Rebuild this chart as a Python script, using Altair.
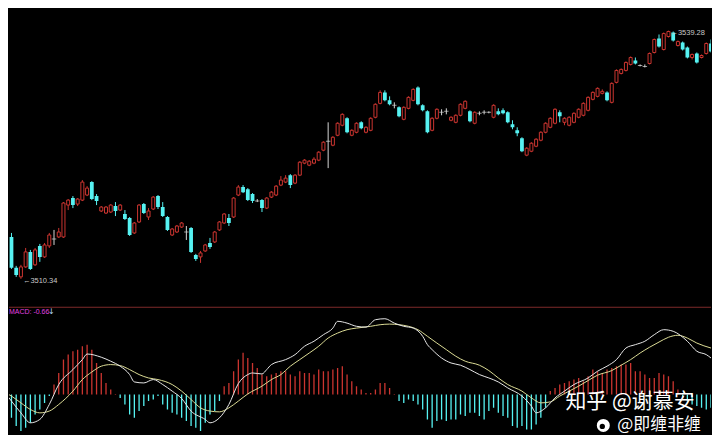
import altair as alt
import pandas as pd

# ---------------- price data (one entry per bar) ----------------
opens = [
    3513.71, 3516.15, 3515.22, 3511.62, 3510.57, 3511.73, 3513.48, 3511.97, 3514.18, 3512.90,
    3514.18, 3514.99, 3515.22, 3515.22, 3518.94, 3519.76, 3519.06, 3519.52, 3520.11, 3521.62,
    3519.99, 3518.25, 3518.01, 3518.13, 3518.83, 3518.36, 3517.90, 3517.43, 3515.69, 3516.97,
    3519.06, 3517.55, 3518.48, 3519.99, 3518.71, 3517.55, 3515.45, 3515.80, 3516.38, 3515.80,
    3516.27, 3513.13, 3512.90, 3513.59, 3514.52, 3514.64, 3516.04, 3516.85, 3517.43, 3517.55,
    3520.11, 3521.04, 3520.80, 3520.22, 3519.41, 3519.52, 3518.59, 3519.87, 3520.11, 3521.27,
    3521.62, 3522.43, 3521.50, 3522.43, 3523.83, 3523.59, 3523.83, 3524.18, 3525.34, 3526.38,
    3525.92, 3527.08, 3528.25, 3529.06, 3527.08, 3527.43, 3528.59, 3527.43, 3527.66, 3529.18,
    3530.80, 3532.08, 3531.15, 3530.57, 3530.34, 3528.94, 3530.22, 3531.15, 3532.66, 3530.57,
    3529.87, 3527.66, 3529.06, 3529.76, 3529.87, 3528.83, 3528.59, 3529.41, 3530.22, 3529.87,
    3528.48, 3529.64, 3529.76, 3529.76, 3529.18, 3529.87, 3529.99, 3529.76, 3528.36, 3527.66,
    3526.73, 3524.76, 3525.22, 3525.80, 3526.50, 3527.43, 3528.01, 3528.48, 3529.76, 3528.59,
    3528.25, 3528.59, 3529.18, 3529.41, 3529.99, 3531.27, 3531.62, 3531.97, 3532.08, 3530.92,
    3533.25, 3534.29, 3534.64, 3535.34, 3535.80, 3535.22, 3535.11, 3535.45, 3536.73, 3538.36,
    3537.08, 3538.59, 3539.06, 3537.55, 3537.90, 3537.31, 3536.15, 3536.62, 3536.15, 3536.62,
    3537.78,
]
closes = [
    3515.80, 3516.15, 3511.62, 3510.80, 3511.73, 3513.48, 3511.50, 3513.71, 3512.90, 3514.29,
    3515.45, 3514.99, 3515.80, 3519.18, 3519.52, 3518.94, 3519.64, 3521.62, 3520.92, 3519.64,
    3519.41, 3518.71, 3518.71, 3518.94, 3518.25, 3518.94, 3517.31, 3515.45, 3516.85, 3518.94,
    3518.01, 3518.25, 3519.87, 3518.71, 3517.66, 3516.04, 3516.15, 3516.50, 3516.85, 3515.80,
    3513.48, 3512.66, 3513.36, 3514.29, 3514.06, 3515.80, 3516.97, 3517.90, 3516.85, 3519.76,
    3521.04, 3520.45, 3519.52, 3519.41, 3519.41, 3518.59, 3519.76, 3520.45, 3521.15, 3521.85,
    3522.08, 3521.27, 3522.43, 3523.94, 3524.18, 3524.06, 3524.29, 3525.11, 3526.27, 3526.38,
    3526.85, 3528.48, 3529.52, 3527.43, 3527.66, 3528.48, 3527.90, 3528.01, 3529.06, 3530.69,
    3532.08, 3531.15, 3530.69, 3530.57, 3529.29, 3530.34, 3531.50, 3532.43, 3530.69, 3529.99,
    3527.43, 3529.06, 3530.11, 3529.76, 3529.87, 3529.18, 3529.41, 3530.69, 3531.04, 3528.71,
    3529.76, 3529.64, 3529.76, 3529.76, 3530.57, 3529.52, 3529.64, 3528.59, 3528.01, 3527.31,
    3525.22, 3525.57, 3526.15, 3526.62, 3527.43, 3528.48, 3529.06, 3530.11, 3529.29, 3529.06,
    3529.18, 3529.64, 3530.11, 3530.80, 3531.50, 3532.08, 3532.55, 3532.20, 3531.15, 3533.13,
    3534.64, 3534.76, 3535.57, 3536.15, 3535.45, 3535.22, 3535.11, 3536.62, 3538.25, 3537.43,
    3538.94, 3539.18, 3538.13, 3538.01, 3537.08, 3536.15, 3536.50, 3535.57, 3536.38, 3537.78,
    3536.85,
]
highs = [
    3516.04, 3516.97, 3515.69, 3511.85, 3511.97, 3513.94, 3513.71, 3513.94, 3514.41, 3514.52,
    3515.69, 3516.04, 3516.27, 3519.29, 3519.64, 3519.99, 3519.76, 3521.85, 3521.15, 3521.73,
    3520.22, 3518.83, 3518.83, 3519.06, 3519.29, 3519.06, 3518.36, 3517.55, 3516.97, 3519.06,
    3519.18, 3518.59, 3519.99, 3520.11, 3519.29, 3517.66, 3516.27, 3516.62, 3516.97, 3516.50,
    3516.38, 3513.25, 3513.59, 3514.41, 3515.11, 3515.92, 3517.08, 3518.01, 3517.90, 3519.87,
    3521.27, 3521.27, 3520.92, 3520.34, 3519.64, 3519.64, 3519.87, 3520.57, 3521.27, 3522.32,
    3522.43, 3522.55, 3522.55, 3524.06, 3524.29, 3524.18, 3524.52, 3525.22, 3526.38, 3528.59,
    3526.97, 3528.59, 3529.64, 3529.18, 3527.78, 3528.59, 3528.71, 3528.13, 3529.18, 3530.80,
    3532.32, 3532.32, 3531.62, 3530.92, 3530.45, 3530.45, 3531.62, 3532.55, 3532.78, 3530.69,
    3529.99, 3529.18, 3530.22, 3530.11, 3530.22, 3529.29, 3529.52, 3530.80, 3531.15, 3529.99,
    3529.87, 3529.87, 3529.99, 3529.87, 3530.69, 3530.22, 3530.22, 3529.87, 3528.83, 3528.01,
    3526.85, 3525.69, 3526.27, 3526.73, 3527.55, 3528.59, 3529.18, 3530.22, 3529.99, 3529.18,
    3529.29, 3529.76, 3530.22, 3530.92, 3531.62, 3532.20, 3532.66, 3532.43, 3532.20, 3533.25,
    3534.76, 3534.87, 3535.69, 3536.27, 3536.15, 3535.34, 3535.34, 3536.73, 3538.36, 3538.83,
    3539.06, 3539.28, 3539.18, 3538.13, 3538.01, 3537.43, 3536.62, 3536.73, 3536.50, 3537.90,
    3538.25,
]
lows = [
    3513.48, 3515.11, 3511.50, 3510.57, 3510.34, 3511.62, 3511.38, 3511.85, 3512.32, 3512.78,
    3513.94, 3514.29, 3515.11, 3515.11, 3518.36, 3518.59, 3518.83, 3519.41, 3519.99, 3519.52,
    3518.94, 3518.13, 3517.90, 3518.01, 3517.66, 3518.25, 3517.20, 3515.34, 3515.57, 3516.85,
    3517.90, 3517.20, 3518.36, 3518.48, 3517.55, 3515.92, 3515.34, 3515.69, 3516.27, 3514.87,
    3513.36, 3512.43, 3512.20, 3513.48, 3513.83, 3514.52, 3515.92, 3516.73, 3516.50, 3517.43,
    3519.99, 3520.34, 3519.41, 3519.18, 3519.29, 3518.13, 3518.48, 3519.76, 3519.99, 3521.15,
    3521.50, 3520.92, 3521.38, 3522.32, 3523.71, 3523.48, 3523.71, 3524.06, 3525.22, 3523.25,
    3525.80, 3526.97, 3528.13, 3527.31, 3526.97, 3527.31, 3527.78, 3527.31, 3527.55, 3529.06,
    3530.69, 3531.04, 3530.57, 3530.22, 3529.18, 3528.83, 3530.11, 3531.04, 3530.57, 3529.87,
    3527.31, 3527.55, 3528.94, 3529.41, 3529.52, 3528.71, 3528.48, 3529.29, 3530.11, 3528.59,
    3528.36, 3529.41, 3529.52, 3529.64, 3529.06, 3529.41, 3529.52, 3528.48, 3527.78, 3526.97,
    3525.11, 3524.64, 3525.11, 3525.69, 3526.38, 3527.31, 3527.90, 3528.36, 3528.59, 3528.25,
    3528.13, 3528.48, 3529.06, 3529.29, 3529.87, 3531.15, 3531.50, 3531.85, 3531.04, 3530.80,
    3533.13, 3534.18, 3534.52, 3535.22, 3535.34, 3535.11, 3534.99, 3535.34, 3536.62, 3537.31,
    3536.97, 3538.48, 3538.01, 3537.43, 3536.97, 3536.04, 3535.92, 3535.45, 3536.04, 3536.50,
    3536.73,
]

# ---------------- MACD data ----------------
macd_hist = [
    -0.45, -0.67, -1.17, -1.58, -1.83, -1.67, -1.42, -1.0, -0.75, -0.42,
    -0.08, 0.5, 1.08, 1.75, 2.0, 2.17, 2.25, 2.42, 2.5, 2.25,
    1.58, 1.08, 0.58, 0.25, 0.03, -0.17, -0.5, -1.0, -1.17, -0.83,
    -0.58, -0.33, -0.25, -0.08, -0.5, -0.75, -0.92, -1.0, -1.17, -1.33,
    -1.58, -1.67, -1.83, -1.42, -1.0, -0.83, -0.33, 0.42, 0.58, 1.17,
    1.75, 2.1, 1.83, 1.58, 1.33, 1.0, 0.92, 1.0, 1.08, 1.17,
    1.17, 1.0, 0.92, 1.17, 1.08, 1.08, 1.0, 1.25, 1.17, 1.17,
    1.25, 1.33, 1.42, 1.0, 0.67, 0.42, 0.25, 0.08, 0.08, 0.25,
    0.58, 0.58, 0.33, 0.03, -0.33, -0.42, -0.25, -0.33, -0.5, -0.75,
    -1.25, -1.67, -1.33, -1.25, -1.33, -1.25, -1.25, -1.0, -1.08, -0.92,
    -0.92, -1.08, -1.25, -0.83, -0.67, -0.92, -1.08, -1.17, -1.58, -1.67,
    -1.58, -1.75, -1.75, -1.5, -1.17, -0.67, 0.17, 0.33, 0.5, 0.58,
    0.67, 0.75, 0.83, 0.67, 0.92, 1.25, 1.17, 1.08, 1.25, 1.33,
    1.42, 1.5, 1.5, 1.58, 1.17, 1.17, 1.0, 0.83, 0.83, 1.08,
    1.0, 0.92, 0.67, 0.25, -0.17, -0.33, -0.5, -0.58, -0.67, -0.75,
    -0.66,
]
dif_idx = [0, 2, 4, 6, 8, 10, 12, 15, 17, 18, 21, 23, 25, 27, 28, 30, 32, 34, 36, 38,
           40, 43, 44, 46, 48, 50, 52, 53, 55, 56, 57, 60, 62, 64, 66, 68, 70, 71, 73, 75,
           77, 79, 81, 83, 85, 87, 89, 90, 91, 93, 95, 97, 99, 101, 103, 105, 107, 110, 112, 113,
           115, 117, 119, 121, 124, 126, 128, 130, 132, 134, 136, 138, 140, 142, 145, 147, 149, 150]
dif_vals = [0.28, -0.33, -0.92, -1.42, -1.25, -0.5, 0.5, 1.25, 1.75, 2.03,
            1.87, 1.67, 1.42, 1.0, 0.63, 0.58, 0.75, 0.5, 0.17, -0.2,
            -0.83, -1.25, -1.42, -1.17, -0.5, 0.55, 1.0, 1.08, 1.03, 1.25,
            1.5, 1.75, 2.0, 2.42, 2.67, 3.0, 3.33, 3.67, 3.58, 3.42,
            3.38, 3.75, 3.8, 3.58, 3.42, 3.33, 2.92, 2.5, 2.25, 1.83,
            1.58, 1.47, 1.25, 1.0, 0.83, 0.63, 0.33, -0.08, -0.58, -0.92,
            -0.67, -0.17, 0.17, 0.5, 0.83, 1.17, 1.42, 1.75, 2.33, 2.5,
            2.67, 3.0, 3.25, 3.17, 2.67, 2.17, 2.0, 1.83]
dea_idx = [0, 2, 4, 6, 8, 10, 12, 15, 17, 19, 21, 23, 25, 27, 29, 31, 33, 36, 38, 40,
           42, 44, 46, 48, 50, 52, 55, 57, 59, 61, 63, 65, 67, 69, 71, 73, 75, 78, 80, 82,
           84, 86, 88, 90, 92, 94, 96, 98, 101, 103, 105, 107, 110, 112, 114, 116, 118, 120, 122, 124,
           126, 129, 131, 133, 135, 137, 139, 141, 143, 145, 147, 150]
dea_vals = [0.17, -0.08, -0.42, -0.75, -0.92, -0.83, -0.5, 0.17, 0.75, 1.13,
            1.42, 1.5, 1.45, 1.25, 1.0, 0.83, 0.75, 0.5, 0.17, -0.25,
            -0.67, -0.83, -0.87, -0.67, -0.33, 0.03, 0.42, 0.75, 1.0, 1.42,
            1.75, 2.08, 2.42, 2.83, 3.08, 3.25, 3.33, 3.42, 3.5, 3.53,
            3.5, 3.42, 3.25, 2.92, 2.58, 2.25, 1.92, 1.67, 1.47, 1.2,
            0.83, 0.5, 0.17, -0.17, -0.42, -0.37, -0.08, 0.17, 0.42, 0.7,
            0.97, 1.2, 1.47, 1.75, 2.08, 2.37, 2.63, 2.87, 2.97, 2.83,
            2.58, 2.33]

# ---------------- labels ----------------
low_label = "←3510.34"
low_bar = 4
high_label = "←3539.28"
high_bar = 141
macd_label = "MACD: -0.66"
arrow_label = "↓"
wm_line1 = "知乎 @谢慕安"
wm_line2 = "@即缠非缠"

RED = "#cc3530"
CYAN = "#56f2f2"
DOJI = "#d6d6d6"
HIST_RED = "#9c2a2e"
HIST_CYAN = "#8ccaca"

W = 704
PH = 298
MH = 129

n = len(opens)
df = pd.DataFrame({
    "idx": list(range(n)),
    "o": opens, "c": closes, "h": highs, "l": lows,
})
df["dir"] = ["up" if c > o else ("down" if c < o else "flat") for o, c in zip(opens, closes)]

xs = alt.Scale(domain=[1.477, 150.0], nice=False, zero=False, padding=0)
ps = alt.Scale(domain=[3507.20, 3541.85], nice=False, zero=False, padding=0)
X = alt.X("idx:Q", scale=xs, axis=None)

color_scale = alt.Scale(domain=["up", "down", "flat"], range=[RED, CYAN, DOJI])

wicks = alt.Chart(df).mark_rule(strokeWidth=1, clip=True).encode(
    x=X,
    y=alt.Y("h:Q", scale=ps, axis=None),
    y2="l:Q",
    color=alt.Color("dir:N", scale=color_scale, legend=None),
)
up_bodies = alt.Chart(df).transform_filter("datum.dir == 'up'").mark_bar(
    width=3.0, fill="black", stroke=RED, strokeWidth=1, clip=True
).encode(x=X, y=alt.Y("o:Q", scale=ps, axis=None), y2="c:Q")
down_bodies = alt.Chart(df).transform_filter("datum.dir == 'down'").mark_bar(
    width=3.8, color=CYAN, clip=True
).encode(x=X, y=alt.Y("o:Q", scale=ps, axis=None), y2="c:Q")
doji = alt.Chart(df).transform_filter("datum.dir == 'flat'").mark_tick(
    orient="horizontal", size=4.5, thickness=1, color=DOJI, clip=True
).encode(x=X, y=alt.Y("o:Q", scale=ps, axis=None))

lab_df = pd.DataFrame({
    "idx": [low_bar, high_bar],
    "p": [lows[low_bar], highs[high_bar]],
    "t": [low_label, high_label],
})
labels = alt.Chart(lab_df).mark_text(
    align="left", baseline="middle", dx=2, dy=2, fontSize=7.5,
    font="Liberation Sans", color="#c8c8c8"
).encode(x=X, y=alt.Y("p:Q", scale=ps, axis=None), text="t:N")

price = alt.layer(wicks, up_bodies, down_bodies, doji, labels).properties(width=W, height=PH)

# ---------------- MACD panel ----------------
ms = alt.Scale(domain=[-2.0, 4.45], nice=False, zero=False, padding=0)
hdf = pd.DataFrame({"idx": list(range(n)), "v": macd_hist, "zero": [0.0] * n})
hdf["sgn"] = ["pos" if v > 0 else "neg" for v in macd_hist]

hist = alt.Chart(hdf).mark_rule(strokeWidth=1.3, clip=True).encode(
    x=X,
    y=alt.Y("v:Q", scale=ms, axis=None),
    y2="zero:Q",
    color=alt.Color("sgn:N", scale=alt.Scale(domain=["pos", "neg"], range=[HIST_RED, HIST_CYAN]), legend=None),
)
dif_df = pd.DataFrame({"idx": dif_idx, "v": dif_vals})
dea_df = pd.DataFrame({"idx": dea_idx, "v": dea_vals})
dif_line = alt.Chart(dif_df).mark_line(color="#e6e6e6", strokeWidth=1, interpolate="monotone", clip=True).encode(
    x=X, y=alt.Y("v:Q", scale=ms, axis=None))
dea_line = alt.Chart(dea_df).mark_line(color="#dcdc96", strokeWidth=1, interpolate="monotone", clip=True).encode(
    x=X, y=alt.Y("v:Q", scale=ms, axis=None))

sep = alt.Chart(pd.DataFrame({"s": [0]})).mark_rule(color="#7e2a2a", strokeWidth=1).encode(
    y=alt.value(1.5))

macd_txt = alt.Chart(pd.DataFrame({"t": [macd_label]})).mark_text(
    align="left", baseline="middle", fontSize=7, font="Liberation Sans", color="#e040e0"
).encode(x=alt.value(0), y=alt.value(6), text="t:N")
arrow_txt = alt.Chart(pd.DataFrame({"t": [arrow_label]})).mark_text(
    align="left", baseline="middle", fontSize=8, font="DejaVu Sans", color="#b0d8ff"
).encode(x=alt.value(39), y=alt.value(6), text="t:N")

wm1 = alt.Chart(pd.DataFrame({"t": [wm_line1]})).mark_text(
    align="left", baseline="middle", fontSize=21, font="Noto Sans CJK SC", color="white"
).encode(x=alt.value(558), y=alt.value(97), text="t:N")
wm2 = alt.Chart(pd.DataFrame({"t": [wm_line2]})).mark_text(
    align="left", baseline="middle", fontSize=17, font="Noto Sans CJK SC", color="white"
).encode(x=alt.value(610), y=alt.value(120), text="t:N")
logo = alt.Chart(pd.DataFrame({"s": [0]})).mark_point(
    shape="circle", filled=True, color="white", size=170, opacity=1
).encode(x=alt.value(596), y=alt.value(120))
logo_eye = alt.Chart(pd.DataFrame({"s": [0]})).mark_point(
    shape="circle", filled=True, color="black", size=28, opacity=1
).encode(x=alt.value(595), y=alt.value(121))

macd = alt.layer(hist, dea_line, dif_line, sep, macd_txt, arrow_txt, wm1, wm2, logo, logo_eye).properties(
    width=W, height=MH)

chart = alt.vconcat(price, macd, spacing=0).properties(
    padding=0, background="black"
).configure_view(stroke=None)

chart.save("out.html", embed_options={"renderer": "svg", "actions": False})
